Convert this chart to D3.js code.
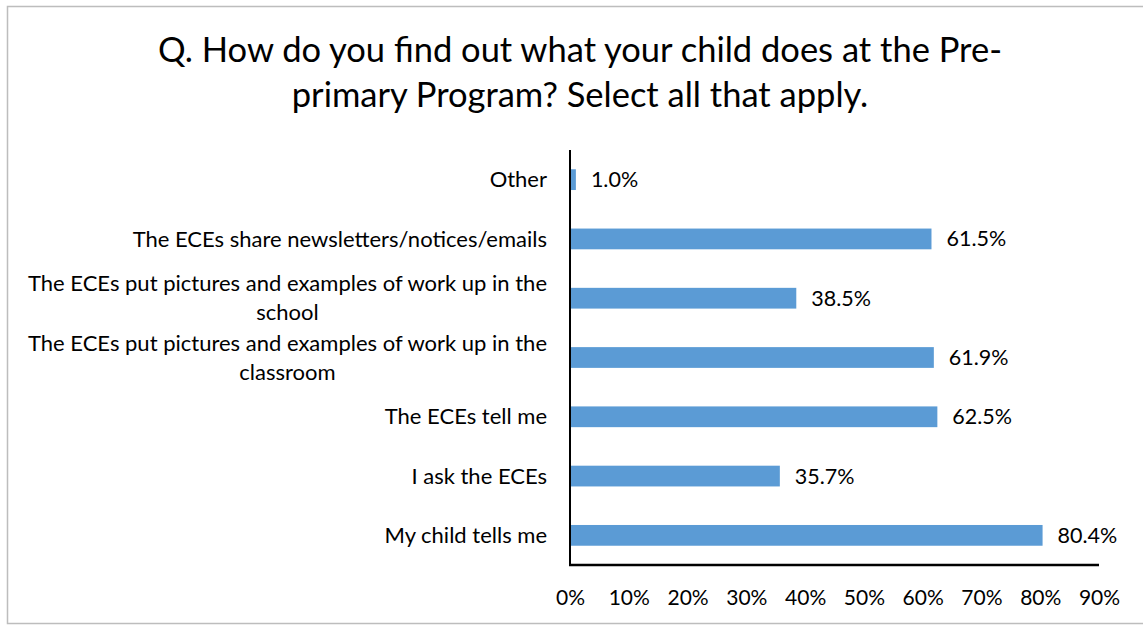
<!DOCTYPE html>
<html>
<head>
<meta charset="utf-8">
<script src="https://cdn.jsdelivr.net/npm/d3@7"></script>
<style>
  html, body { margin: 0; padding: 0; background: #fff; }
  svg { display: block; }
  text { font-family: Lato, "Open Sans", sans-serif; fill: #000; }
</style>
</head>
<body>
<svg id="chart" width="1143" height="626"></svg>
<script>
// Survey responses (percent of respondents), listed top to bottom
const categories = [
  "Other",
  "The ECEs share newsletters/notices/emails",
  "The ECEs put pictures and examples of work up in the school",
  "The ECEs put pictures and examples of work up in the classroom",
  "The ECEs tell me",
  "I ask the ECEs",
  "My child tells me"
];
const values = [1.0, 61.5, 38.5, 61.9, 62.5, 35.7, 80.4];
const tickValues = [0, 10, 20, 30, 40, 50, 60, 70, 80, 90];
const titleLines = [
  "Q. How do you find out what your child does at the Pre-",
  "primary Program? Select all that apply."
];

const svg = d3.select("#chart");
const W = 1143, H = 626;
const labelSize = 22, valueSize = 21.5, tickSize = 21, titleSize = 34.5;

// Outer frame of the chart area
svg.append("rect")
  .attr("x", 7.5).attr("y", 6.5)
  .attr("width", W + 10).attr("height", 617)
  .attr("fill", "#fff")
  .attr("stroke", "#bdbdbd").attr("stroke-width", 1.5);

const plot = { left: 570, right: 1099, top: 150, bottom: 565 };

const x = d3.scaleLinear().domain([0, 90]).range([plot.left, plot.right]);
const y = d3.scaleBand().domain(categories)
  .range([plot.top, plot.bottom])
  .paddingInner(0.65).paddingOuter(0.325);

// Title
svg.append("text")
  .attr("x", 580).attr("y", 62)
  .attr("text-anchor", "middle")
  .attr("font-size", titleSize)
  .selectAll("tspan")
  .data(titleLines)
  .join("tspan")
  .attr("x", 580)
  .attr("dy", (d, i) => i === 0 ? 0 : 45)
  .text(d => d);

// Bars
svg.append("g").selectAll("rect")
  .data(values)
  .join("rect")
  .attr("x", x(0))
  .attr("y", (d, i) => y(categories[i]))
  .attr("width", d => x(d) - x(0))
  .attr("height", y.bandwidth())
  .attr("fill", "#5b9bd5");

// Value labels
svg.append("g").selectAll("text")
  .data(values)
  .join("text")
  .attr("x", d => x(d) + 15)
  .attr("y", (d, i) => y(categories[i]) + y.bandwidth() / 2)
  .attr("dy", "0.35em")
  .attr("font-size", valueSize)
  .text(d => d.toFixed(1) + "%");

// Category labels, wrapped to a fixed width and centred within their block
const labelRight = 547, wrapWidth = 545;
const labelG = svg.append("g");
categories.forEach(cat => {
  const cy = y(cat) + y.bandwidth() / 2;
  const probe = labelG.append("text").attr("font-size", labelSize);
  const words = cat.split(" ");
  const lines = [];
  let line = [];
  words.forEach(w => {
    const test = line.concat(w).join(" ");
    probe.text(test);
    if (probe.node().getComputedTextLength() > wrapWidth && line.length) {
      lines.push(line.join(" "));
      line = [w];
    } else {
      line.push(w);
    }
  });
  lines.push(line.join(" "));
  probe.remove();

  if (lines.length === 1) {
    labelG.append("text")
      .attr("x", labelRight).attr("y", cy)
      .attr("dy", "0.35em")
      .attr("text-anchor", "end")
      .attr("font-size", labelSize)
      .text(lines[0]);
  } else {
    const t = labelG.append("text").attr("font-size", labelSize).attr("text-anchor", "middle");
    const widths = lines.map(l => { t.text(l); return t.node().getComputedTextLength(); });
    t.text(null);
    const cx = labelRight - d3.max(widths) / 2;
    const lh = 29;
    lines.forEach((l, i) => {
      t.append("tspan")
        .attr("x", cx)
        .attr("y", cy + (i - (lines.length - 1) / 2) * lh)
        .attr("dy", "0.35em")
        .text(l);
    });
  }
});

// X axis (labels only, no tick marks)
const xAxis = d3.axisBottom(x)
  .tickValues(tickValues)
  .tickSize(0)
  .tickPadding(0)
  .tickFormat(d => d + "%");
const gx = svg.append("g")
  .attr("transform", `translate(0,${plot.bottom})`)
  .call(xAxis);
gx.select(".domain").remove();
gx.selectAll("text")
  .attr("font-size", tickSize)
  .attr("font-family", "Lato, 'Open Sans', sans-serif")
  .attr("fill", "#000")
  .attr("y", 33)
  .attr("dy", "0.35em");

// Axis lines
svg.append("line")
  .attr("x1", plot.left).attr("x2", plot.left)
  .attr("y1", plot.top).attr("y2", plot.bottom)
  .attr("stroke", "#000").attr("stroke-width", 2);
svg.append("line")
  .attr("x1", plot.left - 1).attr("x2", plot.right)
  .attr("y1", plot.bottom).attr("y2", plot.bottom)
  .attr("stroke", "#000").attr("stroke-width", 2.5);
</script>
</body>
</html>
